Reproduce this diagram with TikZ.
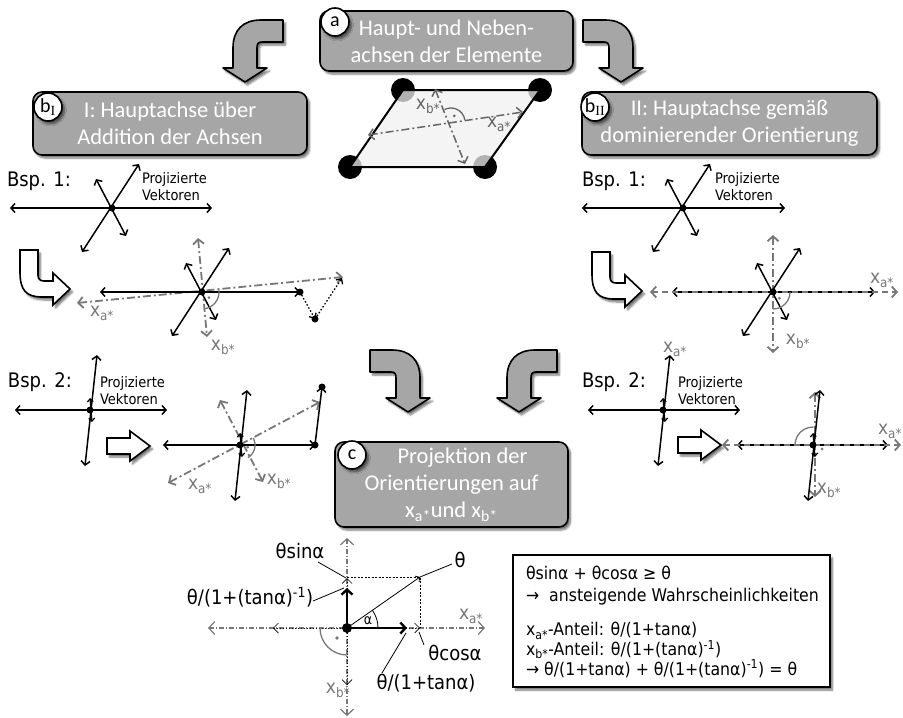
\documentclass[tikz,border=0pt]{standalone}
\usepackage{fontspec}
\setmainfont{Carlito}
\newfontfamily\tah{DejaVu Sans Condensed}
\newfontfamily\serifI{Liberation Serif}
\usetikzlibrary{arrows.meta,shadows.blur}
\definecolor{boxgray}{HTML}{A6A6A6}
\definecolor{axisgray}{HTML}{787878}
\definecolor{parafill}{HTML}{F4F4F4}
\definecolor{dotgray}{HTML}{B2B2B2}
\newcommand\xas{x\textsubscript{a*}}
\newcommand\xbs{x\textsubscript{b*}}
\tikzset{
  every node/.style={inner sep=0pt, outer sep=0pt},
  shad/.style={blur shadow={shadow xshift=2.5pt, shadow yshift=-3pt, shadow blur steps=6, shadow opacity=55}},
  titlebox/.style={shape=rectangle, draw=black, line width=1.6pt, fill=boxgray, rounded corners=9pt, text=white, align=center, font=\fontsize{22.5}{27}\selectfont, shad},
  badge/.style={circle, draw=black, line width=1.6pt, fill=white, minimum size=28pt, font=\fontsize{20}{20}\selectfont, shad},
  blockarrow/.style={draw=black, line width=1.6pt, fill=boxgray, line join=round, shad},
  hollowarrow/.style={draw=black, line width=1.6pt, fill=white, line join=miter, shad},
  vec/.style={line width=1.5pt, {Straight Barb[length=4pt,width=9pt]}-{Straight Barb[length=4pt,width=9pt]}},
  vecend/.style={line width=1.5pt, -{Straight Barb[length=4pt,width=9pt]}},
  smallvec/.style={line width=1.2pt, {Straight Barb[length=3pt,width=6pt]}-{Straight Barb[length=3pt,width=6pt]}},
  ax/.style={draw=axisgray, line width=1.8pt, dash pattern=on 8pt off 3pt on 2pt off 3pt, {Straight Barb[length=5pt,width=11pt]}-{Straight Barb[length=5pt,width=11pt]}},
  axdash/.style={ax, dash pattern=on 6pt off 4pt},
  axthin/.style={draw=axisgray, line width=1.2pt, dash pattern=on 5pt off 2pt on 1pt off 2pt, {Straight Barb[length=6pt,width=13pt]}-{Straight Barb[length=6pt,width=13pt]}},
  dotthin/.style={line width=0.7pt, dash pattern=on 1.5pt off 1.5pt, {Straight Barb[length=5pt,width=10pt]}-{Straight Barb[length=5pt,width=10pt]}},
  dotvec/.style={line width=1.3pt, dash pattern=on 1.5pt off 2pt, -{Straight Barb[length=4pt,width=8pt]}},
  axlab/.style={text=axisgray, font=\tah\fontsize{19}{19}\selectfont},
  rangle/.style={draw=axisgray, line width=1.3pt},
  bsp/.style={anchor=west, font=\tah\fontsize{20}{20}\selectfont},
  proj/.style={anchor=west, align=left, font=\tah\fontsize{14.5}{17}\selectfont},
  formula/.style={font=\tah\fontsize{20}{22}\selectfont},
  boxline/.style={anchor=west, align=left, font=\tah\fontsize{17.5}{17}\selectfont},
  leader/.style={line width=0.8pt},
  pics/bendarrowR/.style={code={
    \draw[blockarrow] (0,0) -- (-22,0) .. controls (-40,0) and (-50,10) .. (-50,28) -- (-50,48) -- (-60,48) -- (-38,62) -- (-16,48) -- (-26,48) -- (-26,28) .. controls (-26,24) and (-25,22) .. (-21,22) -- (0,22) -- cycle;
  }},
  pics/bendarrowL/.style={code={
    \draw[blockarrow] (0,0) -- (22,0) .. controls (40,0) and (50,10) .. (50,28) -- (50,48) -- (60,48) -- (38,62) -- (16,48) -- (26,48) -- (26,28) .. controls (26,24) and (25,22) .. (21,22) -- (0,22) -- cycle;
  }},
  pics/hookarrow/.style={code={
    \draw[hollowarrow] (0,0) -- (0,22) .. controls (0,40) and (6,47) .. (22,47) -- (33,47) -- (33,55) -- (50,39) -- (33,23) -- (33,31) -- (24,31) .. controls (20,31) and (18,29) .. (18,25) -- (18,0) -- cycle;
  }},
  pics/straightarrow/.style={code={
    \draw[hollowarrow] (0,-8) -- (23,-8) -- (23,-15) -- (43,0) -- (23,15) -- (23,8) -- (0,8) -- cycle;
  }},
  pics/diags/.style={code={
    \draw[vec] (-30,44) -- (27,-44);
    \draw[vec] (-16,-29) -- (14,28);
    \fill (0,0) circle[radius=3.5];
  }},
  pics/nearvert/.style={code={
    \draw[vec] (-5,56) -- (7,-55);
    \draw[smallvec] (0,-12) -- (2,12);
    \fill (0,0) circle[radius=3.5];
  }},
}
\begin{document}
\begin{tikzpicture}[x=1pt,y=-1pt]
\useasboundingbox (0,0) rectangle (903,718);

% bent block arrows
\pic at (283,20) {bendarrowR};
\pic at (583,20) {bendarrowL};
\pic at (370,350) {bendarrowL};
\pic at (557,350) {bendarrowR};

% title boxes
\node[titlebox, minimum width=253pt, minimum height=60pt] (boxa) at (446.5,41) {Haupt- und Neben-\\achsen der Elemente};
\node[badge] (bada) at (335,22) {a};
\node[titlebox, minimum width=274pt, minimum height=63pt] (boxb1) at (170,123.5) {I: Hauptachse über\\Addition der Achsen};
\node[badge] (badb1) at (48,107) {b\textsubscript{\serifI I}};
\node[titlebox, minimum width=295pt, minimum height=63pt] (boxb2) at (729.5,123.5) {II: Hauptachse gemäß\\dominierender Orientierung};
\node[badge] (badb2) at (595,107) {b\textsubscript{\serifI II}};
\node[titlebox, minimum width=233pt, minimum height=85pt] (boxc) at (451.5,484.5) {\hspace*{22pt}Projektion der\\Orientierungen auf\\\xas{}und \xbs};
\node[badge] (badc) at (352,455) {c};

% parallelogram element
\coordinate (pTL) at (403,90); \coordinate (pTR) at (540,90);
\coordinate (pBR) at (485,167); \coordinate (pBL) at (350,167);
\foreach \p in {pTL,pTR,pBR,pBL} \fill[black] (\p) circle[radius=12];
\begin{scope}
  \clip (pTL) -- (pTR) -- (pBR) -- (pBL) -- cycle;
  \fill[parafill] (pTL) -- (pTR) -- (pBR) -- (pBL) -- cycle;
  \foreach \p in {pTL,pTR,pBR,pBL} \fill[dotgray] (\p) circle[radius=12];
\end{scope}
\draw[line width=2pt, line join=round] (pTL) -- (pTR) -- (pBR) -- (pBL) -- cycle;
\coordinate (pc) at (451,122);
\coordinate (pa1) at (368,135); \coordinate (pa2) at (523,112);
\coordinate (pb1) at (435,89); \coordinate (pb2) at (465,164);
\draw[ax, line width=1.5pt, draw=axisgray!85!black] (pa1) -- (pa2);
\draw[ax, line width=1.5pt, draw=axisgray!85!black] (pb1) -- (pb2);
\draw[rangle, draw=axisgray!85!black] (pc) ++(-8:14) arc[start angle=-8, end angle=-117, radius=14];
\fill[axisgray!85!black] (pc) ++(-62:7) circle[radius=1.5];
\node[axlab, text=axisgray!85!black] (pxb) at (428,106) {\xbs};
\node[axlab, text=axisgray!85!black] (pxa) at (499,124) {\xas};

% ---------- Bsp. 1 left
\node[bsp] (bsp1l) at (7,181) {Bsp. 1:};
\node[proj] (proj1l) at (142,187) {Projizierte\\Vektoren};
\draw[vec] (10,208) -- (212,208);
\pic at (112,208) {diags};
\pic at (20,250) {hookarrow};
\coordinate (c1) at (202,292);
\draw[ax] (77,303) -- (343,277);
\draw[ax] (198,238) -- (207,337);
\draw[vec] (100,292) -- (300,292);
\pic at (c1) {diags};
\coordinate (s1) at (300,292); \coordinate (s2) at (315,319); \coordinate (s3) at (342,278);
\draw[dotvec] (s1) -- (s2);
\draw[dotvec] (s2) -- (s3);
\fill (s1) circle[radius=3.5]; \fill (s2) circle[radius=3.5];
\draw[rangle] (c1) ++(-6:17) arc[start angle=-6, end angle=84, radius=17];
\fill[axisgray] (c1) ++(39:9) circle[radius=1.5];
\node[axlab] (l1xa) at (102,313) {\xas};
\node[axlab] (l1xb) at (223,347) {\xbs};

% ---------- Bsp. 1 right
\node[bsp] (bsp1r) at (582,181) {Bsp. 1:};
\node[proj] (proj1r) at (715,187) {Projizierte\\Vektoren};
\draw[vec] (582,208) -- (785,208);
\pic at (683,208) {diags};
\pic at (592,252) {hookarrow};
\coordinate (c2) at (773,292);
\draw[ax] (773,235) -- (773,353);
\draw[vec] (672,292) -- (875,292);
\draw[axdash] (650,292) -- (898,292);
\pic at (c2) {diags};
\draw[rangle] (c2) ++(0:17) arc[start angle=0, end angle=90, radius=17];
\fill[axisgray] (c2) ++(45:9) circle[radius=1.5];
\node[axlab] (r1xa) at (882,280) {\xas};
\node[axlab] (r1xb) at (798,341) {\xbs};

% ---------- Bsp. 2 left
\node[bsp] (bsp2l) at (8,382) {Bsp. 2:};
\node[proj] (proj2l) at (100,391) {Projizierte\\Vektoren};
\draw[vec] (15,410) -- (167,410);
\pic at (90,410) {nearvert};
\pic at (107,446) {straightarrow};
\coordinate (c3) at (240,445);
\draw[ax] (168,483) -- (320,402);
\draw[ax] (220,400) -- (263,482);
\draw[vec] (163,445) -- (315,445);
\pic at (c3) {nearvert};
\coordinate (t1) at (315,445); \coordinate (t2) at (322,387);
\draw[vecend] (t1) -- (t2);
\fill (t1) circle[radius=3.5]; \fill (t2) circle[radius=3.5];
\draw[rangle] (c3) ++(-28:15) arc[start angle=-28, end angle=58, radius=15];
\fill[axisgray] (c3) ++(15:8) circle[radius=1.5];
\node[axlab] (l2xa) at (200,486) {\xas};
\node[axlab] (l2xb) at (279,481) {\xbs};

% ---------- Bsp. 2 right
\node[bsp] (bsp2r) at (582,382) {Bsp. 2:};
\node[axlab] (r2top) at (675,349) {\xas};
\node[proj] (proj2r) at (678,391) {Projizierte\\Vektoren};
\draw[vec] (588,410) -- (740,410);
\pic at (663,410) {nearvert};
\pic at (678,445) {straightarrow};
\coordinate (c4) at (813,445);
\draw[ax] (815,392) -- (815,497);
\draw[vec] (737,445) -- (888,445);
\draw[axdash] (722,445) -- (901,445);
\pic at (c4) {nearvert};
\draw[rangle] (c4) ++(180:18) arc[start angle=180, end angle=272, radius=18];
\fill[axisgray] (822,449) circle[radius=1.5];
\node[axlab, anchor=east] (r2xa) at (902,431) {\xas};
\node[axlab] (r2xb) at (829,490) {\xbs};

% ---------- projection diagram
\coordinate (O) at (347,628);
\draw[axthin] (208,628) -- (485,628);
\draw[axthin] (347,538) -- (347,716);
\draw[dotthin] (273,628) -- (420,628);
\draw[dotthin] (347,578) -- (347,685);
\coordinate (thetaend) at (420,577);
\draw[line width=0.8pt, dash pattern=on 2pt off 1.5pt] (347,577) -- (thetaend) -- (420,628);
\draw[line width=0.8pt, -{Straight Barb[length=3pt,width=7pt]}] (O) -- (thetaend);
\draw[leader] (thetaend) -- (452,564);
\draw[line width=2.4pt, -{Straight Barb[length=5pt,width=11pt]}] (O) -- (407,628);
\draw[line width=2.4pt, -{Straight Barb[length=5pt,width=11pt]}] (O) -- (347,588);
\fill (O) circle[radius=5];
\draw[line width=0.8pt] (O) ++(31,0) arc[start angle=0, end angle=-35, radius=31];
\node[font=\tah\fontsize{14}{14}\selectfont] (alab) at (368,621) {α};
\draw[rangle] (O) ++(90:27) arc[start angle=90, end angle=180, radius=27];
\fill[axisgray] (337,638) circle[radius=1.8];
\node[formula] (lsin) at (300,551) {θsinα};
\draw[leader] (318,562) -- (346,578);
\node[formula] (ltheta) at (460,560) {θ};
\node[formula] (ltan1) at (250,597) {θ/(1+(tanα)\textsuperscript{-1})};
\draw[leader] (313,601) -- (344,588);
\node[formula] (lcos) at (455,653) {θcosα};
\draw[leader] (424,645) -- (419,632);
\node[formula] (ltan) at (426,683) {θ/(1+tanα)};
\draw[leader] (382,673) -- (406,633);
\node[axlab] (bxa) at (471,616) {\xas};
\node[axlab] (bxb) at (338,690) {\xbs};

% ---------- formula box
\node[draw, line width=2pt, fill=white, shad, minimum width=317pt, minimum height=132pt, anchor=north west] (fbox) at (513,555) {};
\node[boxline] (f1) at (526,573) {θsinα + θcosα ≥ θ};
\node[boxline] (f2) at (526,597) {→\ \ ansteigende Wahrscheinlichkeiten};
\node[boxline] (f3) at (526,650) {\xas-Anteil: θ/(1+tanα)\\
  \xbs-Anteil: θ/(1+(tanα)\textsuperscript{-1})\\
  → θ/(1+tanα) + θ/(1+(tanα)\textsuperscript{-1}) = θ};
\end{tikzpicture}
\end{document}
